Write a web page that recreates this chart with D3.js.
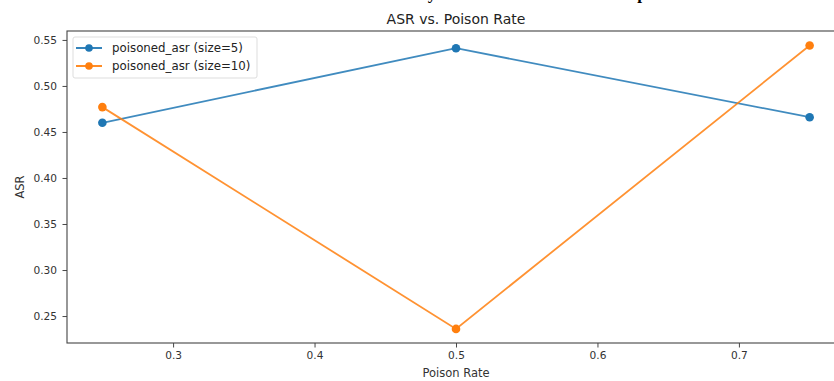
<!DOCTYPE html>
<html>
<head>
<meta charset="utf-8">
<script src="https://cdn.jsdelivr.net/npm/d3@7"></script>
<style>
  body { margin: 0; background: #fff; }
  svg { display: block; font-family: "DejaVu Sans", sans-serif; }
</style>
</head>
<body>
<div id="chart"></div>
<script>
// data
var poisonRates = [0.25, 0.5, 0.75];
var asrSize5 = [0.460, 0.541, 0.466];
var asrSize10 = [0.477, 0.236, 0.544];
var seriesNames = ["poisoned_asr (size=5)", "poisoned_asr (size=10)"];
var seriesColors = ["#1f77b4", "#ff7f0e"];
var xTicks = [0.3, 0.4, 0.5, 0.6, 0.7];
var yTicks = [0.25, 0.30, 0.35, 0.40, 0.45, 0.50, 0.55];

var width = 834, height = 381;
var plotLeft = 67, plotRight = 845, plotTop = 31, plotBottom = 343;

var svg = d3.select('#chart').append('svg')
  .attr("width", width)
  .attr("height", height);

// scraps of the document text cut off above the figure
svg.append("text").attr("x", 432).attr("y", -1)
  .attr("font-family", "Liberation Serif").attr("font-weight", "bold")
  .attr("font-size", "17px").attr("text-anchor", "middle").text("y");
svg.append("text").attr("x", 642).attr("y", -1)
  .attr("font-family", "Liberation Serif").attr("font-weight", "bold")
  .attr("font-size", "17px").attr("text-anchor", "middle").text("p");

var x = d3.scaleLinear().domain([0.225, 0.775]).range([plotLeft, plotRight]);
var y = d3.scaleLinear().domain([0.2207, 0.5597]).range([plotBottom, plotTop]);

// axes
var xAxis = svg.append("g")
  .attr("transform", "translate(0," + plotBottom + ")")
  .call(d3.axisBottom(x).tickValues(xTicks).tickSize(4.5).tickPadding(4).tickFormat(d3.format(".1f")));
var yAxis = svg.append("g")
  .attr("transform", "translate(" + plotLeft + ",0)")
  .call(d3.axisLeft(y).tickValues(yTicks).tickSize(4.5).tickPadding(5.5).tickFormat(d3.format(".2f")));

[xAxis, yAxis].forEach(function(a){
  a.select(".domain").remove();
  a.selectAll("line").attr("stroke", "#333").attr("stroke-width", 0.9);
  a.selectAll("text").attr("fill", "#333").attr("font-size", "10.6px")
    .attr("font-family", "DejaVu Sans");
});

// spines (right one falls outside the crop)
svg.append("rect")
  .attr("x", plotLeft).attr("y", plotTop)
  .attr("width", plotRight - plotLeft).attr("height", plotBottom - plotTop)
  .attr("fill", "none").attr("stroke", "#444").attr("stroke-width", 1.1);

var line = d3.line()
  .x(function(d){return x(d[0]);})
  .y(function(d){return y(d[1]);});

[asrSize5, asrSize10].forEach(function(vals, i){
  var pts = poisonRates.map(function(r, j){return [r, vals[j]];});
  svg.append("path").datum(pts)
    .attr("d", line)
    .attr("fill", "none")
    .attr("stroke", seriesColors[i])
    .attr("stroke-width", 1.8)
    .attr("opacity", 0.85);
  svg.selectAll(".dot" + i).data(pts).enter().append("circle")
    .attr("cx", function(d){return x(d[0]);})
    .attr("cy", function(d){return y(d[1]);})
    .attr("r", 4.3)
    .attr("fill", seriesColors[i]);
});

// title and axis labels
svg.append("text").attr("x", (plotLeft + plotRight) / 2).attr("y", 23.5)
  .attr("text-anchor", "middle").attr("font-size", "14px").attr("fill", "#222")
  .text("ASR vs. Poison Rate");
svg.append("text").attr("x", (plotLeft + plotRight) / 2).attr("y", 377)
  .attr("text-anchor", "middle").attr("font-size", "11.5px").attr("fill", "#333")
  .text("Poison Rate");
svg.append("text")
  .attr("transform", "translate(24," + (plotTop + plotBottom) / 2 + ") rotate(-90)")
  .attr("text-anchor", "middle").attr("font-size", "11.5px").attr("fill", "#333")
  .text("ASR");

// legend
var legend = svg.append("g").attr("transform", "translate(73,37)");
legend.append("rect")
  .attr("width", 184).attr("height", 41).attr("rx", 2)
  .attr("fill", "#fff").attr("fill-opacity", 0.8)
  .attr("stroke", "#ddd").attr("stroke-width", 1);
seriesNames.forEach(function(name, i){
  var g = legend.append("g").attr("transform", "translate(0," + (11 + i * 18) + ")");
  g.append("line").attr("x1", 3).attr("x2", 29).attr("y1", 0).attr("y2", 0)
    .attr("stroke", seriesColors[i]).attr("stroke-width", 1.8);
  g.append("circle").attr("cx", 16).attr("cy", 0).attr("r", 3.8).attr("fill", seriesColors[i]);
  g.append("text").attr("x", 39).attr("y", 0).attr("dy", "0.35em")
    .attr("font-size", "11.8px").attr("fill", "#222").text(name);
});
</script>
</body>
</html>
